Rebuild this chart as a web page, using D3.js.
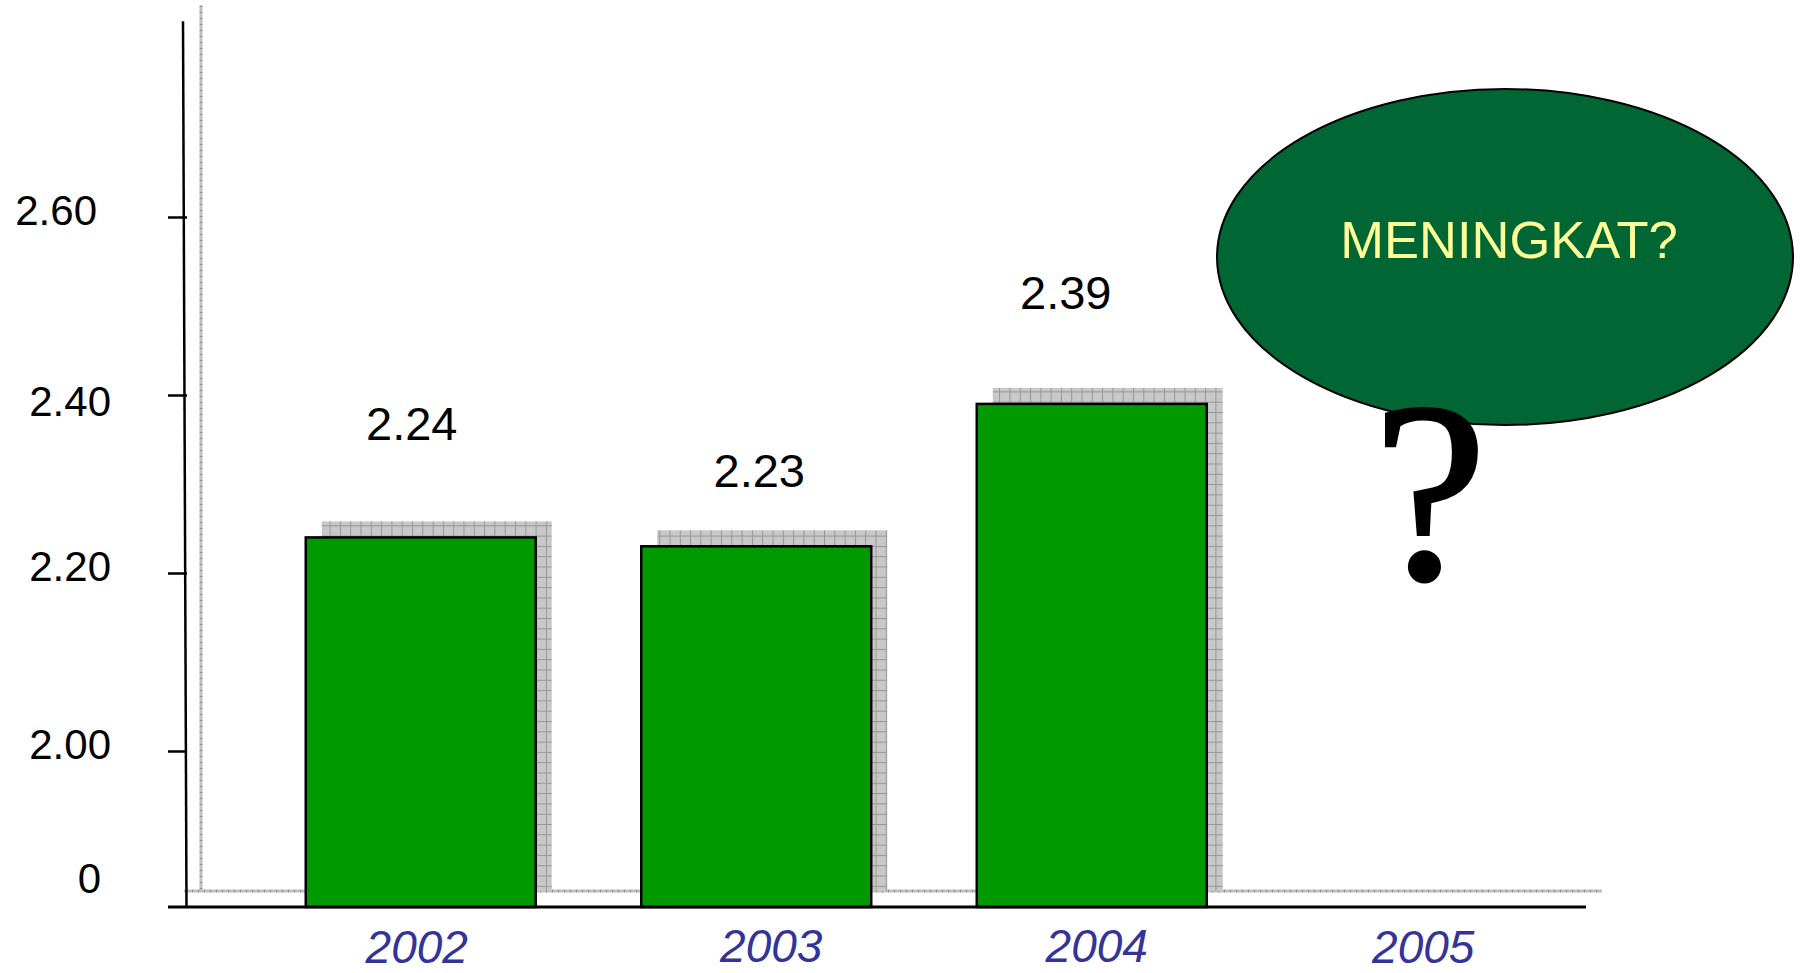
<!DOCTYPE html>
<html>
<head>
<meta charset="utf-8">
<script src="https://cdn.jsdelivr.net/npm/d3@7/dist/d3.min.js"></script>
<style>
  html, body { margin: 0; padding: 0; background: #ffffff; }
  svg { display: block; }
</style>
</head>
<body>
<svg id="chart" width="1801" height="973"></svg>
<script>
// ---- data ----
const years = ["2002", "2003", "2004", "2005"];
const barYears = ["2002", "2003", "2004"];
const barValues = [2.24, 2.23, 2.39];
const yTickValues = [0, 2.0, 2.2, 2.4, 2.6];
const yTickLabels = ["0", "2.00", "2.20", "2.40", "2.60"];
const calloutText = "MENINGKAT?";
const questionMark = "?";

// ---- layout ----
const W = 1801, H = 973;
const axisX = 185;          // front value axis
const baseY = 907;          // front category axis
const depth = 16;           // 3-D offset of the back wall
const sans = "'Liberation Sans', Arial, sans-serif";
const serif = "'Liberation Serif', 'Times New Roman', serif";

const svg = d3.select("#chart");

// broken value axis: 0 at the floor, 2.00 .. 2.82 linear above it
const y = d3.scaleLinear()
  .domain([0, 2.0, 2.82])
  .range([baseY, 751, 751 - 0.82 * 890]);

const x = d3.scaleBand()
  .domain(years)
  .range([253, 1595])
  .paddingInner(0.3145)
  .paddingOuter(0.15725);

// hatched grey used for the back wall and bar shadows
const defs = svg.append("defs");
const pat = defs.append("pattern")
  .attr("id", "hatch")
  .attr("patternUnits", "userSpaceOnUse")
  .attr("width", 10.3).attr("height", 10.3);
pat.append("rect").attr("width", 10.3).attr("height", 10.3).attr("fill", "#c8c8c8");
pat.append("rect").attr("width", 10.3).attr("height", 1).attr("fill", "#979797");
pat.append("rect").attr("width", 1).attr("height", 10.3).attr("fill", "#979797");

const fine = defs.append("pattern")
  .attr("id", "fine")
  .attr("patternUnits", "userSpaceOnUse")
  .attr("width", 6).attr("height", 6);
fine.append("rect").attr("width", 6).attr("height", 6).attr("fill", "#c0c0c0");
fine.append("rect").attr("width", 1).attr("height", 6).attr("fill", "#8c8c8c");
fine.append("rect").attr("width", 6).attr("height", 1).attr("fill", "#8c8c8c");

// back wall (the axis frame pushed back by the depth offset)
const [yBottom, yTop] = [y(0), y(2.82)];
svg.append("rect")
  .attr("x", axisX + depth - 1.5).attr("y", yTop - depth)
  .attr("width", 3).attr("height", yBottom - yTop)
  .attr("fill", "url(#fine)");
svg.append("rect")
  .attr("x", axisX - 17 + depth).attr("y", baseY - depth - 1.5)
  .attr("width", 1586 - (axisX - 17)).attr("height", 3)
  .attr("fill", "url(#fine)");

// bar shadows
const bars = barYears.map((yr, i) => ({ year: yr, value: barValues[i] }));
svg.append("g").selectAll("rect")
  .data(bars).join("rect")
  .attr("x", d => x(d.year) + depth)
  .attr("y", d => y(d.value) - depth)
  .attr("width", x.bandwidth())
  .attr("height", d => y(0) - y(d.value))
  .attr("fill", "url(#hatch)");

// bars
svg.append("g").selectAll("rect")
  .data(bars).join("rect")
  .attr("x", d => x(d.year))
  .attr("y", d => y(d.value))
  .attr("width", x.bandwidth())
  .attr("height", d => y(0) - y(d.value))
  .attr("fill", "#009900")
  .attr("stroke", "#000")
  .attr("stroke-width", 2.5);

// value axis
const tickNudge = { 0: [-10, -22], 2.6: [-14, 0], 2.4: [0, 13] };
const yAxis = d3.axisLeft(y)
  .tickValues(yTickValues)
  .tickSize(17)
  .tickPadding(57)
  .tickFormat((d, i) => yTickLabels[i]);
const gy = svg.append("g")
  .attr("transform", `translate(${axisX},0)`)
  .call(yAxis);
gy.select(".domain").remove();
gy.selectAll(".tick line")
  .attr("x2", d => d === 0 ? 0 : -17)
  .attr("x1", d => d === 0 ? 0 : 2)
  .attr("stroke", "#000").attr("stroke-width", 2.5);
gy.selectAll(".tick text")
  .attr("font-family", sans)
  .attr("font-size", 42)
  .attr("fill", "#000")
  .attr("dy", d => 7 + (tickNudge[d] ? tickNudge[d][1] : 0))
  .attr("dx", d => (tickNudge[d] ? tickNudge[d][0] : 0));
svg.append("line")
  .attr("x1", axisX - 2).attr("x2", axisX + 1.5)
  .attr("y1", yTop).attr("y2", baseY)
  .attr("stroke", "#000").attr("stroke-width", 2.5);

// category axis
svg.append("line")
  .attr("x1", axisX - 17).attr("x2", 1586)
  .attr("y1", baseY).attr("y2", baseY)
  .attr("stroke", "#000").attr("stroke-width", 3);

const catNudge = { "2002": [-4, 56], "2003": [15, 55], "2004": [5, 55], "2005": [-4, 56] };
svg.append("g").selectAll("text")
  .data(years).join("text")
  .attr("x", d => x(d) + x.bandwidth() / 2 + catNudge[d][0])
  .attr("y", d => baseY + catNudge[d][1])
  .attr("text-anchor", "middle")
  .attr("font-family", sans)
  .attr("font-style", "italic")
  .attr("font-size", 46)
  .attr("fill", "#333399")
  .text(d => d);

// value labels
const valNudge = { "2002": [-9, -97], "2003": [3, -59], "2004": [-26, -95] };
svg.append("g").selectAll("text")
  .data(bars).join("text")
  .attr("x", d => x(d.year) + x.bandwidth() / 2 + valNudge[d.year][0])
  .attr("y", d => y(d.value) + valNudge[d.year][1])
  .attr("text-anchor", "middle")
  .attr("font-family", sans)
  .attr("font-size", 47)
  .attr("fill", "#000")
  .text(d => d3.format(".2f")(d.value));

// callout for the unknown year
svg.append("ellipse")
  .attr("cx", 1505).attr("cy", 257)
  .attr("rx", 288).attr("ry", 168)
  .attr("fill", "#006633")
  .attr("stroke", "#000")
  .attr("stroke-width", 2);
svg.append("text")
  .attr("x", 1509).attr("y", 258)
  .attr("text-anchor", "middle")
  .attr("font-family", sans)
  .attr("font-size", 52.5)
  .attr("fill", "#ffff99")
  .text(calloutText);
svg.append("text")
  .attr("x", 1430).attr("y", 578)
  .attr("text-anchor", "middle")
  .attr("font-family", serif)
  .attr("font-size", 256)
  .attr("fill", "#000")
  .attr("stroke", "#000")
  .attr("stroke-width", 3)
  .text(questionMark);
</script>
</body>
</html>
